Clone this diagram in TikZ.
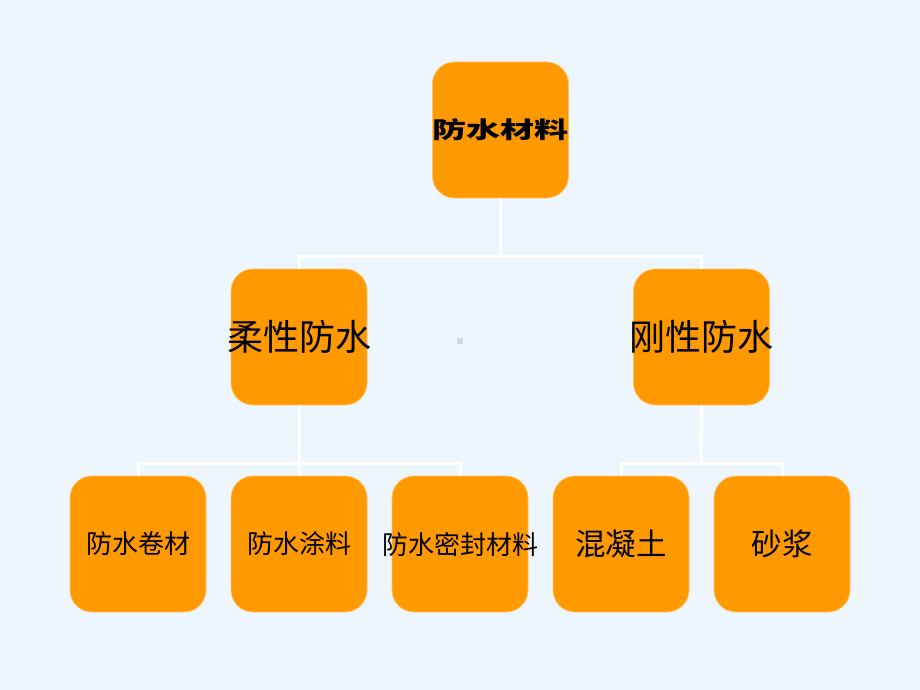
\documentclass[tikz,border=0pt]{standalone}
\usepackage{fontspec}
\newfontfamily\cjk{Noto Sans CJK SC}
\definecolor{bgc}{HTML}{EEF6FD}
\definecolor{orc}{HTML}{FF9900}
\definecolor{dotc}{HTML}{D3DAE2}
\newcommand{\ctext}[1]{\makebox[0pt][c]{#1}}
\begin{document}
\begin{tikzpicture}[x=1pt,y=-1pt,
  box/.style={fill=orc,draw=orc!60!white,line width=0.8pt,rounded corners=22pt,minimum width=136pt,minimum height=136pt,inner sep=0pt,text=black,font=\cjk},
  conn/.style={draw=white,line width=3pt}]
\fill[bgc] (0,0) rectangle (920,690);
\useasboundingbox (0,0) rectangle (920,690);
\node[box] (root) at (500.5,130) {\ctext{\scalebox{1.48}[1]{\fontsize{23}{23}\selectfont\bfseries 防水材料}}};
\node[box,font=\cjk\fontsize{36}{36}\selectfont] (rou) at (299,337) {\ctext{柔性防水}};
\node[box,font=\cjk\fontsize{36}{36}\selectfont] (gang) at (701.5,337) {\ctext{刚性防水}};
\node[box,font=\cjk\fontsize{26}{26}\selectfont] (jc) at (138,544) {\ctext{防水卷材}};
\node[box,font=\cjk\fontsize{26}{26}\selectfont] (tl) at (299,544) {\ctext{防水涂料}};
\node[box,font=\cjk\fontsize{26}{26}\selectfont] (mf) at (460,544) {\ctext{防水密封材料}};
\node[box,font=\cjk\fontsize{30.5}{30.5}\selectfont] (hnt) at (621,544) {\ctext{混凝土}};
\node[box,font=\cjk\fontsize{30.5}{30.5}\selectfont] (sj) at (782,544) {\ctext{砂浆}};
\fill[dotc] (457,338) rectangle (463,344);
\coordinate (b1) at (500,256);
\coordinate (b2) at (299,463);
\coordinate (b3) at (701,463);
\draw[conn] (root.south -| b1) -- (b1);
\draw[conn] (rou.north) |- (b1) -| (gang.north);
\draw[conn] (rou.south) -- (b2);
\draw[conn] (jc.north) |- (b2) -| (mf.north);
\draw[conn] (b2) -- (tl.north);
\draw[conn] (gang.south) -- (b3);
\draw[conn] (hnt.north) |- (b3) -| (sj.north);
\end{tikzpicture}
\end{document}
